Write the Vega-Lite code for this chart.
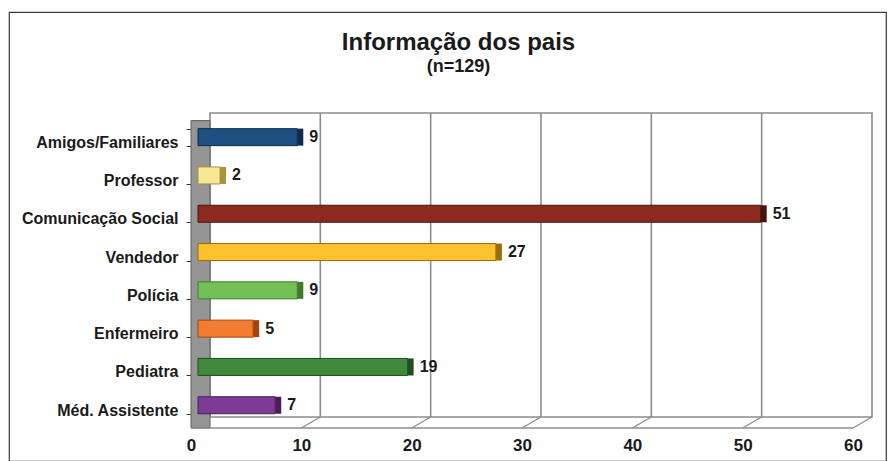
{
  "$schema": "https://vega.github.io/schema/vega-lite/v6.json",
  "width": 877,
  "height": 449,
  "autosize": "none",
  "padding": {"left": 9, "top": 12, "right": 5, "bottom": 0},
  "background": "white",
  "config": {"view": {"stroke": "#3a3a3a", "strokeWidth": 1.2}, "font": "Liberation Sans"},
  "title": {
    "text": "Informação dos pais",
    "subtitle": "(n=129)",
    "anchor": "middle",
    "frame": "group",
    "fontSize": 24,
    "fontWeight": "bold",
    "color": "#1a1a1a",
    "subtitleFontSize": 18,
    "subtitleFontWeight": "bold",
    "subtitleColor": "#1a1a1a",
    "subtitlePadding": 3,
    "offset": -72,
    "dx": 11
  },
  "resolve": {"scale": {"x": "independent", "y": "independent"}},
  "layer": [
    {
      "data": {"values": [{"g": 0}, {"g": 10}, {"g": 20}, {"g": 30}, {"g": 40}, {"g": 50}, {"g": 60}]},
      "layer": [
        {
          "transform": [{"filter": "datum.g == 0"}],
          "mark": {"type": "rect", "fill": "white", "stroke": "#8c8c8c", "strokeWidth": 1.6},
          "encoding": {
            "x": {"datum": 0, "type": "quantitative", "scale": {"domain": [0, 60], "range": [201, 863], "nice": false, "zero": false}, "axis": null},
            "x2": {"datum": 60},
            "y": {"datum": 0, "type": "quantitative", "scale": {"domain": [0, 1], "range": [405, 101], "nice": false, "zero": false}, "axis": null},
            "y2": {"datum": 1}
          }
        },
        {
          "transform": [{"filter": "datum.g > 0 && datum.g < 60"}],
          "mark": {"type": "rule", "stroke": "#8c8c8c", "strokeWidth": 1.6},
          "encoding": {
            "x": {"field": "g", "type": "quantitative", "scale": {"domain": [0, 60], "range": [201, 863], "nice": false, "zero": false}, "axis": null},
            "y": {"datum": 0, "type": "quantitative", "scale": {"domain": [0, 1], "range": [405, 101], "nice": false, "zero": false}, "axis": null},
            "y2": {"datum": 1}
          }
        },
        {
          "mark": {"type": "rule", "stroke": "#8c8c8c", "strokeWidth": 1.3, "x2Offset": -19},
          "encoding": {
            "x": {"field": "g", "type": "quantitative", "scale": {"domain": [0, 60], "range": [201, 863], "nice": false, "zero": false}, "axis": null},
            "x2": {"field": "g"},
            "y": {"datum": 0, "type": "quantitative", "scale": {"domain": [0, 1], "range": [405, 101], "nice": false, "zero": false}, "axis": null},
            "y2": {"datum": -0.036}
          }
        },
        {
          "transform": [{"filter": "datum.g == 0"}],
          "mark": {"type": "rect", "fill": "#959595", "stroke": "#5f5f5f", "strokeWidth": 1},
          "encoding": {
            "x": {"datum": -1.72, "type": "quantitative", "scale": {"domain": [0, 60], "range": [201, 863], "nice": false, "zero": false}, "axis": null},
            "x2": {"datum": 0},
            "y": {"datum": -0.036, "type": "quantitative", "scale": {"domain": [0, 1], "range": [405, 101], "nice": false, "zero": false}, "axis": null},
            "y2": {"datum": 0.975}
          }
        },
        {
          "transform": [{"filter": "datum.g == 0"}],
          "mark": {"type": "rule", "stroke": "#8c8c8c", "strokeWidth": 1.6},
          "encoding": {
            "x": {"datum": -1.72, "type": "quantitative", "scale": {"domain": [0, 60], "range": [201, 863], "nice": false, "zero": false}, "axis": null},
            "x2": {"datum": 58.28},
            "y": {"datum": -0.036, "type": "quantitative", "scale": {"domain": [0, 1], "range": [405, 101], "nice": false, "zero": false}, "axis": null}
          }
        }
      ]
    },
    {
      "data": {
        "values": [
          {"cat": "Amigos/Familiares", "v": 9},
          {"cat": "Professor", "v": 2},
          {"cat": "Comunicação Social", "v": 51},
          {"cat": "Vendedor", "v": 27},
          {"cat": "Polícia", "v": 9},
          {"cat": "Enfermeiro", "v": 5},
          {"cat": "Pediatra", "v": 19},
          {"cat": "Méd. Assistente", "v": 7}
        ]
      },
      "encoding": {
        "y": {
          "field": "cat",
          "type": "nominal",
          "sort": ["Amigos/Familiares", "Professor", "Comunicação Social", "Vendedor", "Polícia", "Enfermeiro", "Pediatra", "Méd. Assistente"],
          "scale": {"range": [106, 412.4], "paddingInner": 0.556, "paddingOuter": 0.278},
          "axis": {
            "orient": "left",
            "offset": -182,
            "domain": false,
            "ticks": true,
            "tickSize": 5,
            "tickColor": "#333333",
            "tickBand": "extent",
            "tickOffset": 4,
            "labelOffset": 5,
            "labelPadding": 8,
            "labelFontSize": 16,
            "labelFontWeight": "bold",
            "labelColor": "#1a1a1a",
            "labelLimit": 300,
            "grid": false,
            "title": null
          }
        },
        "x": {
          "field": "v",
          "type": "quantitative",
          "scale": {"domain": [0, 60], "range": [189, 851], "nice": false, "zero": false},
          "axis": {
            "orient": "bottom",
            "offset": -33,
            "domain": false,
            "ticks": false,
            "grid": false,
            "values": [0, 10, 20, 30, 40, 50, 60],
            "labelOffset": -7,
            "labelPadding": 9,
            "labelFlush": false,
            "labelFontSize": 17,
            "labelFontWeight": "bold",
            "labelColor": "#1a1a1a",
            "title": null
          }
        }
      },
      "layer": [
        {
          "mark": {"type": "bar", "strokeWidth": 1},
          "encoding": {
            "color": {
              "field": "cat",
              "type": "nominal",
              "scale": {
                "domain": ["Amigos/Familiares", "Professor", "Comunicação Social", "Vendedor", "Polícia", "Enfermeiro", "Pediatra", "Méd. Assistente"],
                "range": ["#1d4f80", "#f8e794", "#8b2b1f", "#fcc12e", "#72c056", "#f47c31", "#3f8a3c", "#7d3a97"]
              },
              "legend": null
            },
            "stroke": {
              "field": "cat",
              "type": "nominal",
              "scale": {
                "domain": ["Amigos/Familiares", "Professor", "Comunicação Social", "Vendedor", "Polícia", "Enfermeiro", "Pediatra", "Méd. Assistente"],
                "range": ["#0f2c4c", "#a8933f", "#4a130c", "#9a6d0a", "#3e7a2a", "#a3440f", "#1f4f1d", "#4a1c5c"]
              },
              "legend": null
            }
          }
        },
        {
          "mark": {"type": "tick", "thickness": 6, "size": 17, "xOffset": 3, "filled": true, "opacity": 1},
          "encoding": {
            "fill": {
              "field": "cat",
              "type": "nominal",
              "scale": {
                "domain": ["Amigos/Familiares", "Professor", "Comunicação Social", "Vendedor", "Polícia", "Enfermeiro", "Pediatra", "Méd. Assistente"],
                "range": ["#0f2c4c", "#a8933f", "#4a130c", "#9a6d0a", "#3e7a2a", "#a3440f", "#1f4f1d", "#4a1c5c"]
              },
              "legend": null
            }
          }
        },
        {
          "mark": {"type": "text", "align": "left", "baseline": "middle", "dx": 12, "fontSize": 16, "fontWeight": "bold", "color": "#1a1a1a"},
          "encoding": {"text": {"field": "v", "type": "quantitative"}}
        }
      ]
    }
  ]
}
